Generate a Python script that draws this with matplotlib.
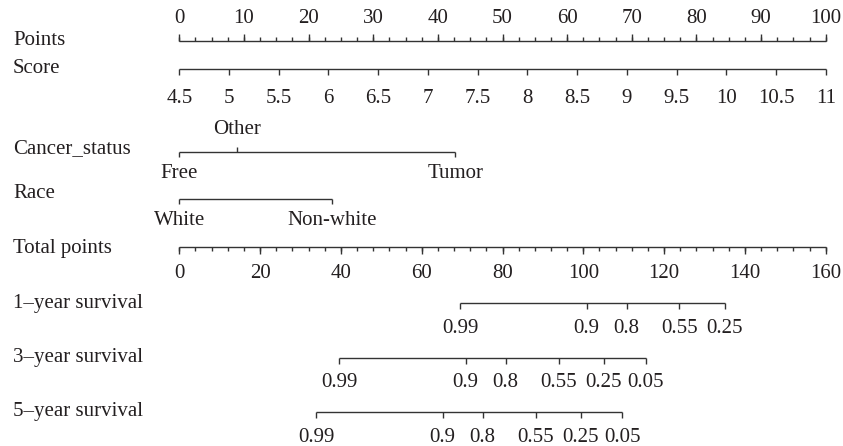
import numpy as np
import matplotlib.pyplot as plt
import matplotlib.transforms as mtransforms

plt.rcParams['font.family'] = ['Liberation Serif', 'DejaVu Serif']

# nomogram scales
points_major = [0, 10, 20, 30, 40, 50, 60, 70, 80, 90, 100]
points_minor = np.arange(0, 100.01, 2.5)

score_ticks = [4.5, 5, 5.5, 6, 6.5, 7, 7.5, 8, 8.5, 9, 9.5, 10, 10.5, 11]
score_min, score_max = 4.5, 11

cancer_levels = ['Free', 'Other', 'Tumor']
cancer_points = [0, 9.0, 42.7]

race_levels = ['White', 'Non-white']
race_points = [0, 23.7]

total_major = [0, 20, 40, 60, 80, 100, 120, 140, 160]
total_minor = np.arange(0, 160.01, 4)
total_max = 160

surv1_labels = ['0.99', '0.9', '0.8', '0.55', '0.25']
surv1_total = [69.6, 100.8, 110.7, 123.8, 135.0]
surv3_labels = ['0.99', '0.9', '0.8', '0.55', '0.25', '0.05']
surv3_total = [39.6, 70.9, 80.8, 93.9, 105.1, 115.4]
surv5_labels = ['0.99', '0.9', '0.8', '0.55', '0.25', '0.05']
surv5_total = [33.9, 65.2, 75.1, 88.2, 99.4, 109.6]

W, H = 843, 446
fig = plt.figure(figsize=(W / 100, H / 100), dpi=100)
ax = fig.add_axes([179.3 / W, 0, 646.4 / W, 1])
ax.set_xlim(0, 100)
ax.set_ylim(H, 0)
ax.axis('off')

LC = '#333333'
TC = '#231f20'
FS = 15
lab = mtransforms.blended_transform_factory(fig.transFigure, ax.transData)


def score_to_pts(s):
    return (np.asarray(s, dtype=float) - score_min) / (score_max - score_min) * 100


def total_to_pts(t):
    return np.asarray(t, dtype=float) / total_max * 100


def hline(x0, x1, y):
    ax.plot([x0, x1], [y, y], color=LC, lw=1.0, clip_on=False, solid_capstyle='butt')


def ticks(xs, y, length):
    # negative length draws the tick upward
    ax.vlines(xs, y, y + length, color=LC, lw=1.0, clip_on=False)


def row_label(text, y):
    ax.text(13 / W, y, text, transform=lab, ha='left', va='baseline', fontsize=FS, color=TC)


def tick_labels(xs, labels, y):
    for x, s in zip(xs, labels):
        ax.text(x, y, s, ha='center', va='baseline', fontsize=FS, color=TC, clip_on=False)


# Points
y = 40.7
hline(0, 100, y)
ticks(points_minor, y, -4)
ticks(points_major, y, -6.7)
tick_labels(points_major, [str(v) for v in points_major], 23)
row_label('Points', 45)

# Score
y = 69.3
sx = score_to_pts(score_ticks)
hline(sx[0], sx[-1], y)
ticks(sx, y, 6)
tick_labels(sx, ['%g' % v for v in score_ticks], 103)
row_label('Score', 73)

# Cancer status
y = 152
hline(min(cancer_points), max(cancer_points), y)
for lvl, p in zip(cancer_levels, cancer_points):
    if lvl == 'Other':
        ticks([p], y, -5)
        tick_labels([p], [lvl], 134)
    else:
        ticks([p], y, 5)
        tick_labels([p], [lvl], 178)
row_label('Cancer_status', 153)

# Race
y = 199
hline(min(race_points), max(race_points), y)
ticks(race_points, y, 5)
tick_labels(race_points, race_levels, 225)
row_label('Race', 197.7)

# Total points
y = 247.3
tx = total_to_pts(total_major)
hline(0, 100, y)
ticks(total_to_pts(total_minor), y, 4)
ticks(tx, y, 7)
tick_labels(tx, [str(v) for v in total_major], 278)
row_label('Total points', 253)

# survival scales
for name, tot, labels, y, ly, ry in [
        ('1\u2013year survival', surv1_total, surv1_labels, 303.3, 333, 308),
        ('3\u2013year survival', surv3_total, surv3_labels, 357.7, 387, 362),
        ('5\u2013year survival', surv5_total, surv5_labels, 412.3, 442, 415.7)]:
    px = total_to_pts(tot)
    hline(px[0], px[-1], y)
    ticks(px, y, 6)
    tick_labels(px, labels, ly)
    row_label(name, ry)

fig.savefig('out.png', dpi=100)
